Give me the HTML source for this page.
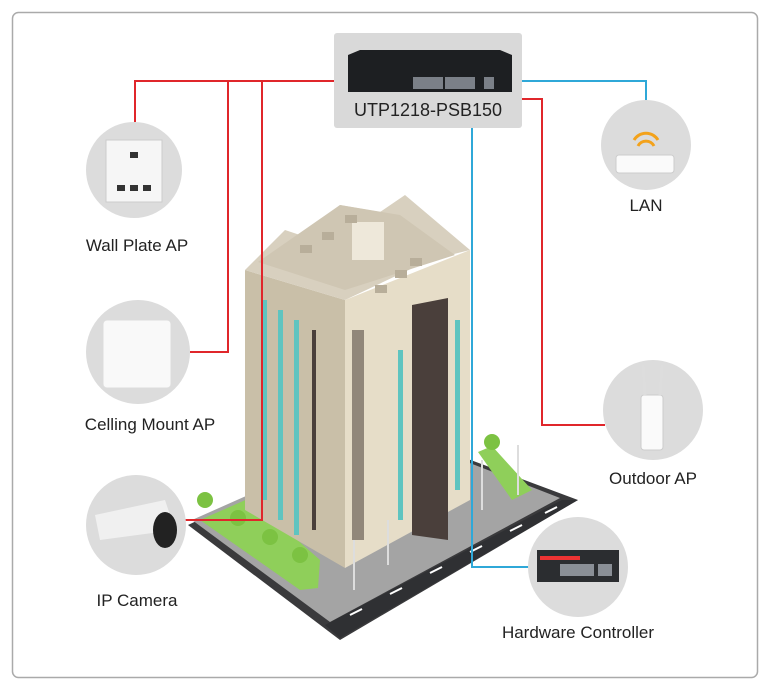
<!DOCTYPE html>
<html><head><style>
body{margin:0;background:#fff;}
.wrap{position:relative;width:772px;height:689px;overflow:hidden;font-family:"Liberation Sans",sans-serif;}
.lbl{position:absolute;font-size:17px;color:#222;transform:translateX(-50%);white-space:nowrap;}
</style></head><body><div class="wrap">
<svg width="772" height="689" style="position:absolute;left:0;top:0">
<rect x="12.5" y="12.5" width="745" height="665" rx="6" fill="#fff" stroke="#aaa" stroke-width="1.5"/>
<!-- ground -->
<polygon points="188,525 390,430 578,500 340,640" fill="#3a3a3c"/>
<polygon points="192,520 390,432 560,498 330,622" fill="#a4a4a4"/>
<polygon points="200,520 250,498 320,560 318,588 300,590" fill="#8fcf5a"/>
<polygon points="478,452 492,446 532,490 512,500" fill="#8fcf5a"/>
<polygon points="325,625 562,500 578,500 340,638" fill="#2f3033"/>
<g stroke="#fff" stroke-width="2"><line x1="350" y1="615" x2="362" y2="609"/><line x1="390" y1="594" x2="402" y2="588"/><line x1="430" y1="573" x2="442" y2="567"/><line x1="470" y1="552" x2="482" y2="546"/><line x1="510" y1="531" x2="522" y2="525"/><line x1="545" y1="513" x2="557" y2="507"/></g>
<!-- building -->
<polygon points="245,270 245,510 345,568 345,300" fill="#c9bfa8"/>
<polygon points="345,300 345,568 470,500 470,250" fill="#e6ddc8"/>
<polygon points="412,305 448,298 448,540 412,535" fill="#4a3f3b"/>
<g fill="#5fc4c0">
<rect x="262" y="300" width="5" height="200"/><rect x="278" y="310" width="5" height="210"/><rect x="294" y="320" width="5" height="215"/>
<rect x="398" y="350" width="5" height="170"/><rect x="455" y="320" width="5" height="170"/>
</g>
<g fill="#4a3f3b"><rect x="312" y="330" width="4" height="200"/><rect x="352" y="330" width="12" height="210" opacity=".55"/></g>
<polygon points="245,270 285,230 300,235 340,205 380,212 405,195 470,250 430,260 345,300" fill="#d8d0bf"/>
<polygon points="258,262 340,205 400,215 455,255 345,290" fill="#cfc6b3"/>
<rect x="352" y="222" width="32" height="38" fill="#eee8da"/>
<g fill="#b8ae9a"><rect x="300" y="245" width="12" height="8"/><rect x="322" y="232" width="12" height="8"/><rect x="345" y="215" width="12" height="8"/><rect x="375" y="285" width="12" height="8"/><rect x="395" y="270" width="12" height="8"/><rect x="410" y="258" width="12" height="8"/></g>
<!-- trees -->
<g fill="#7cc242"><circle cx="205" cy="500" r="8"/><circle cx="238" cy="518" r="8"/><circle cx="270" cy="537" r="8"/><circle cx="300" cy="555" r="8"/><circle cx="492" cy="442" r="8"/></g>
<g stroke="#ddd" stroke-width="2"><line x1="354" y1="540" x2="354" y2="590"/><line x1="388" y1="520" x2="388" y2="565"/><line x1="482" y1="460" x2="482" y2="510"/><line x1="518" y1="445" x2="518" y2="495"/></g>
<!-- lines -->
<g fill="none" stroke="#e0262b" stroke-width="2">
<polyline points="335,81 135,81 135,122"/>
<polyline points="228,81 228,352 190,352"/>
<polyline points="262,81 262,520 185,520"/>
<polyline points="521,99 542,99 542,425 605,425"/>
</g>
<g fill="none" stroke="#2fa8d8" stroke-width="2">
<polyline points="521,81 646,81 646,100"/>
<polyline points="472,128 472,567 530,567"/>
</g>
<!-- switch -->
<rect x="334" y="33" width="188" height="95" rx="3" fill="#d9d9d9"/>
<polygon points="348,55 360,50 500,50 512,55 512,92 348,92" fill="#1d1f22"/>
<g fill="#7b8088"><rect x="413" y="77" width="30" height="12"/><rect x="445" y="77" width="30" height="12"/><rect x="484" y="77" width="10" height="12"/></g>
<!-- circles -->
<g fill="#dcdcdc">
<circle cx="134" cy="170" r="48"/><circle cx="138" cy="352" r="52"/><circle cx="136" cy="525" r="50"/>
<circle cx="646" cy="145" r="45"/><circle cx="653" cy="410" r="50"/><circle cx="578" cy="567" r="50"/>
</g>
<rect x="106" y="140" width="56" height="62" fill="#f6f6f6" stroke="#ccc"/>
<g fill="#333"><rect x="117" y="185" width="8" height="6"/><rect x="130" y="185" width="8" height="6"/><rect x="143" y="185" width="8" height="6"/><rect x="130" y="152" width="8" height="6"/></g>
<rect x="103" y="320" width="68" height="68" rx="4" fill="#f9f9f9" stroke="#ddd"/>
<path d="M95,515 L165,500 L175,530 L100,540Z" fill="#f0f0f0"/><ellipse cx="165" cy="530" rx="12" ry="18" fill="#222"/>
<rect x="616" y="155" width="58" height="18" rx="3" fill="#fafafa" stroke="#ccc"/>
<path d="M634,140 a14,14 0 0 1 24,0 M638,146 a9,9 0 0 1 16,0" stroke="#f3a21b" stroke-width="3" fill="none"/>
<rect x="641" y="395" width="22" height="55" rx="3" fill="#fafafa" stroke="#ccc"/>
<line x1="645" y1="395" x2="643" y2="365" stroke="#ddd" stroke-width="3"/><line x1="660" y1="395" x2="662" y2="365" stroke="#ddd" stroke-width="3"/>
<rect x="537" y="550" width="82" height="32" fill="#2b2d30"/><rect x="540" y="556" width="40" height="4" fill="#e33"/>
<g fill="#8a8f96"><rect x="560" y="564" width="34" height="12"/><rect x="598" y="564" width="14" height="12"/></g>
</svg>
<div class="lbl" style="left:428px;top:100px;font-size:18px">UTP1218-PSB150</div>
<div class="lbl" style="left:137px;top:236px">Wall Plate AP</div>
<div class="lbl" style="left:150px;top:415px">Celling Mount AP</div>
<div class="lbl" style="left:137px;top:591px">IP Camera</div>
<div class="lbl" style="left:646px;top:196px">LAN</div>
<div class="lbl" style="left:653px;top:469px">Outdoor AP</div>
<div class="lbl" style="left:578px;top:623px">Hardware Controller</div>
</div></body></html>
